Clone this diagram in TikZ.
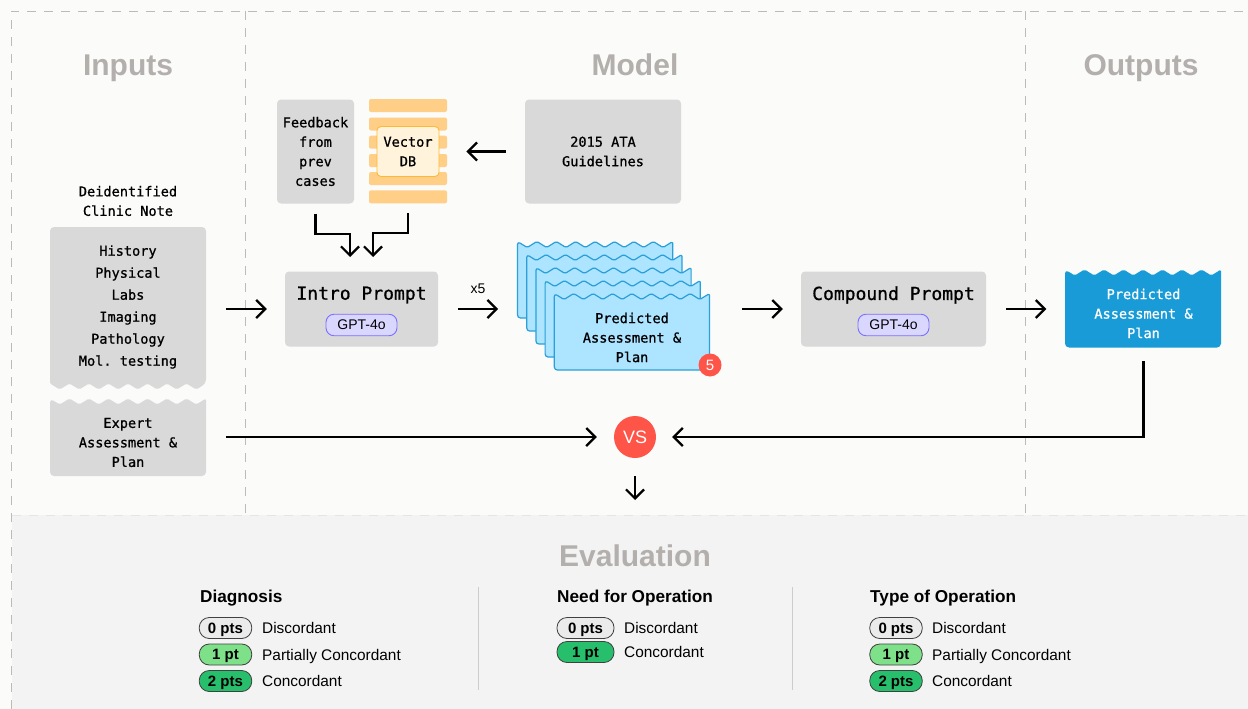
\documentclass[tikz,border=0pt]{standalone}
\usepackage{fontspec}
\setmainfont{Liberation Sans}
\setmonofont[FakeBold=0.8]{DejaVu Sans Mono}
\usetikzlibrary{arrows.meta}
\definecolor{pagebg}{HTML}{FBFBFA}
\definecolor{evalbg}{HTML}{F3F3F3}
\definecolor{dashgray}{HTML}{BDBBB8}
\definecolor{headgray}{HTML}{B3AFAC}
\definecolor{boxgray}{HTML}{D9D9D9}
\definecolor{stripeorange}{HTML}{FFCF87}
\definecolor{dbfill}{HTML}{FFF3DC}
\definecolor{dbline}{HTML}{FFB833}
\definecolor{sheetfill}{HTML}{ADE4FF}
\definecolor{sheetline}{HTML}{2A9FD8}
\definecolor{outblue}{HTML}{189BD6}
\definecolor{pillfill}{HTML}{DAD7FF}
\definecolor{pillline}{HTML}{7B70FF}
\definecolor{vsred}{HTML}{FF5448}
\definecolor{zerofill}{HTML}{EBEBEB}
\definecolor{onefill}{HTML}{7FE08A}
\definecolor{twofill}{HTML}{27BF6B}
\tikzset{
  heading/.style={anchor=base,text=headgray,font=\fontsize{30}{30}\selectfont\bfseries},
  mono/.style={align=center,font=\fontsize{13.6}{19.5}\selectfont\ttfamily},
  greybox/.style={fill=boxgray,rounded corners=4pt,minimum width=#1,inner sep=0pt},
  prompt/.style={font=\fontsize{18}{18}\selectfont\ttfamily},
  gpt/.style={draw=pillline,fill=pillfill,rounded corners=8pt,minimum width=71pt,minimum height=21.5pt,inner sep=0pt,line width=0.9pt,font=\fontsize{14}{14}\selectfont},
  arr/.style={line width=2.2pt,-{Straight Barb[length=9pt,width=18pt,line width=2.2pt]}},
  coltitle/.style={anchor=base west,inner sep=0pt,font=\fontsize{17.2}{17.2}\selectfont\bfseries},
  pts/.style={draw=black!75,fill=#1,rounded corners=10pt,minimum height=21pt,inner sep=0pt,line width=0.8pt,text height=10.7pt,text depth=0pt,font=\fontsize{15}{15}\selectfont\bfseries},
  rowlab/.style={anchor=base west,inner sep=0pt,font=\fontsize{15.4}{15.4}\selectfont},
  divider/.style={draw=black!20,line width=1pt},
  dashline/.style={draw=dashgray,line width=0.8pt,dash pattern=on 9pt off 8pt},
}
\newcommand{\sheet}[2]{
  \draw[fill=sheetfill,draw=sheetline,line width=1.2pt,line join=round] (#1,#2)
    [rounded corners=1.5pt] \foreach \i in {1,...,8}{ -- ++(9.7,6) -- ++(9.7,-6)}
    [rounded corners=3pt] -- ++(0,76.5) -- ++(-155.2,0) -- cycle;
}
\begin{document}
\begin{tikzpicture}[x=1pt,y=-1pt]
  \useasboundingbox (0,0) rectangle (1248,709);
  \fill[pagebg] (0,0) rectangle (1248,709);
  \fill[evalbg] (12,515) rectangle (1248,709);
  % panel outlines
  \draw[dashline] (11,709) -- (11,11) -- (1248,11);
  \draw[dashline] (245,11) -- (245,515);
  \draw[dashline] (1025,11) -- (1025,515);
  \draw[dashline,draw=black!10] (12,515) -- (1248,515);
  \node[heading] (inputs) at (128,75) {Inputs};
  \node[heading] (model) at (635,75) {Model};
  \node[heading] (outputs) at (1141,75) {Outputs};
  \node[heading] (evaluation) at (635,566) {Evaluation};

  % inputs column
  \node[mono] (notehead) at (128,201) {Deidentified\\Clinic Note};
  \fill[boxgray] (50,383.5) [rounded corners=4pt] -- (50,227) -- (206,227) -- (206,383.5) [rounded corners=1.5pt]
    \foreach \i in {1,...,8}{ -- ++(-9.75,6) -- ++(-9.75,-6)} [sharp corners] -- cycle;
  \fill[boxgray] (50,398.5) [rounded corners=1.5pt] \foreach \i in {1,...,8}{ -- ++(9.75,6) -- ++(9.75,-6)}
    [rounded corners=4pt] -- (206,476) -- (50,476) -- cycle;
  \node[mono,font=\fontsize{13.6}{22}\selectfont\ttfamily,minimum width=156pt] (note) at (128,307) {History\\Physical\\Labs\\Imaging\\Pathology\\Mol. testing};
  \node[mono,minimum width=156pt] (expert) at (128,442.5) {Expert\\Assessment \&\\Plan};

  % model column
  \node[greybox=77pt,minimum height=104pt,mono] (feedback) at (315.5,151.5) {Feedback\\from\\prev\\cases};
  \foreach \y in {99,117.5,135.7,154,172,190.3}{
    \fill[stripeorange,rounded corners=2pt] (369,\y) rectangle ++(78,13);
  }
  \node[draw=dbline,fill=dbfill,line width=0.9pt,rounded corners=4pt,minimum width=62pt,minimum height=50pt,inner sep=0pt,mono] (vector) at (408,151.5) {Vector\\DB};
  \coordinate (stripes) at (408,203);
  \node[greybox=156pt,minimum height=104pt,mono] (guide) at (603,151.5) {2015 ATA\\Guidelines};
  \node[greybox=153pt,minimum height=75pt] (intro) at (361.5,309) {};
  \node[prompt] (introlab) at (361.5,295) {Intro Prompt};
  \node[gpt] (intropill) at (361.5,325) {GPT-4o};
  \coordinate (inl) at (350,271);
  \coordinate (inr) at (373,271);
  \node[inner sep=0pt,font=\fontsize{14}{14}\selectfont] (times) at (478,289) {x5};
  \coordinate (stackl) at (518,309);
  \coordinate (stackr) at (722,309);
  \sheet{517.5}{241.5}
  \sheet{526.7}{254.5}
  \sheet{535.9}{267.5}
  \sheet{545.1}{280.5}
  \sheet{554.3}{293.5}
  \node[mono] (predicted) at (632,337.5) {Predicted\\Assessment \&\\Plan};
  \node[circle,fill=vsred,text=white,minimum size=23pt,inner sep=0pt,font=\fontsize{15}{15}\selectfont] (badge) at (710,365) {5};
  \node[greybox=185pt,minimum height=75pt] (compound) at (893.5,309) {};
  \node[prompt] (compoundlab) at (893.5,295) {Compound Prompt};
  \node[gpt] (compoundpill) at (893.5,325) {GPT-4o};

  % outputs column
  \fill[outblue] (1065,269.5) [rounded corners=1.5pt] \foreach \i in {1,...,8}{ -- ++(9.75,6) -- ++(9.75,-6)}
    [rounded corners=4pt] -- (1221,347.5) -- (1065,347.5) -- cycle;
  \node[mono,text=white,minimum width=156pt,minimum height=67pt,inner sep=0pt] (output) at (1143.5,313.5) {Predicted\\Assessment \&\\Plan};
  \node[circle,fill=vsred,text=white,minimum size=42pt,inner sep=0pt,font=\fontsize{18}{18}\selectfont] (vs) at (635,437) {VS};
  \coordinate (evaltop) at (635,500);

  % connectors
  \draw[arr,shorten <=20pt,shorten >=18pt] (note.east|-intro.west) -- (intro.west);
  \draw[arr,shorten <=20pt,shorten >=20pt] (intro.east) -- (stackl);
  \draw[arr,shorten <=20pt,shorten >=18pt] (stackr) -- (compound.west);
  \draw[arr,shorten <=20pt,shorten >=19pt] (compound.east) -- (output.west|-compound.east);
  \draw[arr,shorten >=27pt,shorten <=19pt] (guide.west) -- (vector.east);
  \draw[arr,shorten <=10pt,shorten >=14pt] (feedback.south) -- ++(0,30) -| (inl);
  \draw[arr,shorten <=10pt,shorten >=14pt] (stripes) -- ++(0,30) -| (inr);
  \draw[arr,shorten <=20pt,shorten >=17pt] (expert.east|-vs.west) -- (vs.west);
  \draw[arr,shorten <=14pt,shorten >=16pt] (output.south) |- (vs.east);
  \draw[arr,shorten <=18pt] (vs.south) -- (evaltop);

  % evaluation
  \draw[divider] (478,587) -- (478,690);
  \draw[divider] (792,587) -- (792,690);
  \node[coltitle] (diag) at (200,602) {Diagnosis};
  \node[pts=zerofill,minimum width=52.5pt] (dzero) at (225.5,628) {0 pts};
  \node[pts=onefill,minimum width=52.5pt] (done) at (225.5,654.5) {1 pt};
  \node[pts=twofill,minimum width=52.5pt] (dtwo) at (225.5,681) {2 pts};
  \node[rowlab] (dzerolab) at (262,633.5) {Discordant};
  \node[rowlab] (donelab) at (262,660) {Partially Concordant};
  \node[rowlab] (dtwolab) at (262,686.5) {Concordant};
  \node[coltitle] (need) at (557,602) {Need for Operation};
  \node[pts=zerofill,minimum width=57pt] (nzero) at (585.5,628) {0 pts};
  \node[pts=twofill,minimum width=57pt] (none) at (585.5,652) {1 pt};
  \node[rowlab] (nzerolab) at (624,633.5) {Discordant};
  \node[rowlab] (nonelab) at (624,657.5) {Concordant};
  \node[coltitle] (type) at (870,602) {Type of Operation};
  \node[pts=zerofill,minimum width=52.5pt] (tzero) at (896,628) {0 pts};
  \node[pts=onefill,minimum width=52.5pt] (tone) at (896,654.5) {1 pt};
  \node[pts=twofill,minimum width=52.5pt] (ttwo) at (896,681) {2 pts};
  \node[rowlab] (tzerolab) at (932,633.5) {Discordant};
  \node[rowlab] (tonelab) at (932,660) {Partially Concordant};
  \node[rowlab] (ttwolab) at (932,686.5) {Concordant};
\end{tikzpicture}
\end{document}
